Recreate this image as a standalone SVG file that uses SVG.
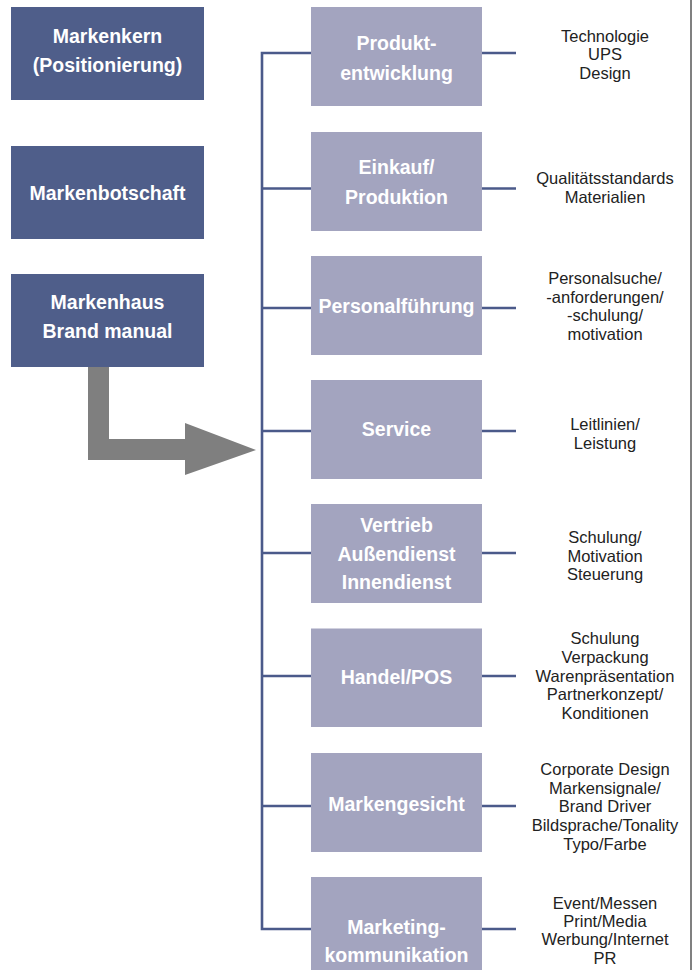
<svg xmlns="http://www.w3.org/2000/svg" width="699" height="970" viewBox="0 0 699 970">
<style>
.dark{fill:#4f5e8a}
.light{fill:#a3a4bf}
.bt{font-family:"Liberation Sans",Arial,sans-serif;font-weight:bold;font-size:19.5px;fill:#ffffff;text-anchor:middle}
.rt{font-family:"Liberation Sans",Arial,sans-serif;font-size:16.5px;fill:#222222;text-anchor:middle}
.ln{stroke:#4b5a8a;stroke-width:2.6;fill:none}
</style>
<rect width="699" height="970" fill="#ffffff"/>
<line x1="691" y1="0" x2="691" y2="970" stroke="#808080" stroke-width="2"/>
<g id="connectors">
<path class="ln" d="M311,53 H262 V929 H311"/>
<line class="ln" x1="262" y1="188.5" x2="311" y2="188.5"/>
<line class="ln" x1="262" y1="308" x2="311" y2="308"/>
<line class="ln" x1="262" y1="431" x2="311" y2="431"/>
<line class="ln" x1="262" y1="553" x2="311" y2="553"/>
<line class="ln" x1="262" y1="676" x2="311" y2="676"/>
<line class="ln" x1="262" y1="806" x2="311" y2="806"/>
<line class="ln" x1="482" y1="53" x2="516" y2="53"/>
<line class="ln" x1="482" y1="188.5" x2="516" y2="188.5"/>
<line class="ln" x1="482" y1="308" x2="516" y2="308"/>
<line class="ln" x1="482" y1="431" x2="516" y2="431"/>
<line class="ln" x1="482" y1="553" x2="516" y2="553"/>
<line class="ln" x1="482" y1="676" x2="516" y2="676"/>
<line class="ln" x1="482" y1="806" x2="516" y2="806"/>
<line class="ln" x1="482" y1="929" x2="516" y2="929"/>
<polygon id="bigarrow" points="88,367 109,367 109,439 185,439 185,423 256,450 185,475 185,460 88,460" fill="#7f7f7f"/>
</g>
<g id="markenkern"><rect class="dark" x="11" y="7" width="193" height="93"/><text class="bt" x="107.5" y="43">Markenkern</text><text class="bt" x="107.5" y="71.5">(Positionierung)</text></g>
<g id="markenbotschaft"><rect class="dark" x="11" y="146" width="193" height="93"/><text class="bt" x="107.5" y="200">Markenbotschaft</text></g>
<g id="markenhaus"><rect class="dark" x="11" y="274" width="193" height="93"/><text class="bt" x="107.5" y="309">Markenhaus</text><text class="bt" x="107.5" y="337.5">Brand manual</text></g>
<g id="produkt"><rect class="light" x="311" y="7" width="171" height="99"/><text class="bt" x="396.5" y="50">Produkt-</text><text class="bt" x="396.5" y="80">entwicklung</text></g>
<g id="einkauf"><rect class="light" x="311" y="132" width="171" height="99"/><text class="bt" x="396.5" y="174">Einkauf/</text><text class="bt" x="396.5" y="203.5">Produktion</text></g>
<g id="personal"><rect class="light" x="311" y="256" width="171" height="99"/><text class="bt" x="396.5" y="313">Personalführung</text></g>
<g id="service"><rect class="light" x="311" y="380" width="171" height="99"/><text class="bt" x="396.5" y="436">Service</text></g>
<g id="vertrieb"><rect class="light" x="311" y="504" width="171" height="99"/><text class="bt" x="396.5" y="531.5">Vertrieb</text><text class="bt" x="396.5" y="560.5">Außendienst</text><text class="bt" x="396.5" y="589">Innendienst</text></g>
<g id="handel"><rect class="light" x="311" y="628.5" width="171" height="98.5"/><text class="bt" x="396.5" y="684">Handel/POS</text></g>
<g id="markengesicht"><rect class="light" x="311" y="753" width="171" height="99"/><text class="bt" x="396.5" y="810.5">Markengesicht</text></g>
<g id="marketing"><rect class="light" x="311" y="877" width="171" height="93"/><text class="bt" x="396.5" y="934">Marketing-</text><text class="bt" x="396.5" y="962">kommunikation</text></g>
<g id="t-produkt"><text class="rt" x="605" y="41.5">Technologie</text><text class="rt" x="605" y="60">UPS</text><text class="rt" x="605" y="78.5">Design</text></g>
<g id="t-einkauf"><text class="rt" x="605" y="184">Qualitätsstandards</text><text class="rt" x="605" y="203">Materialien</text></g>
<g id="t-personal"><text class="rt" x="605" y="284">Personalsuche/</text><text class="rt" x="605" y="302.5">-anforderungen/</text><text class="rt" x="605" y="321">-schulung/</text><text class="rt" x="605" y="339.5">motivation</text></g>
<g id="t-service"><text class="rt" x="605" y="429.5">Leitlinien/</text><text class="rt" x="605" y="448.5">Leistung</text></g>
<g id="t-vertrieb"><text class="rt" x="605" y="542.5">Schulung/</text><text class="rt" x="605" y="561.5">Motivation</text><text class="rt" x="605" y="580">Steuerung</text></g>
<g id="t-handel"><text class="rt" x="605" y="643.5">Schulung</text><text class="rt" x="605" y="662.5">Verpackung</text><text class="rt" x="605" y="681.5">Warenpräsentation</text><text class="rt" x="605" y="700">Partnerkonzept/</text><text class="rt" x="605" y="718.5">Konditionen</text></g>
<g id="t-markengesicht"><text class="rt" x="605" y="775">Corporate Design</text><text class="rt" x="605" y="793.5">Markensignale/</text><text class="rt" x="605" y="812">Brand Driver</text><text class="rt" x="605" y="831">Bildsprache/Tonality</text><text class="rt" x="605" y="849.5">Typo/Farbe</text></g>
<g id="t-marketing"><text class="rt" x="605" y="908.5">Event/Messen</text><text class="rt" x="605" y="926.5">Print/Media</text><text class="rt" x="605" y="945">Werbung/Internet</text><text class="rt" x="605" y="963.5">PR</text></g>
</svg>
